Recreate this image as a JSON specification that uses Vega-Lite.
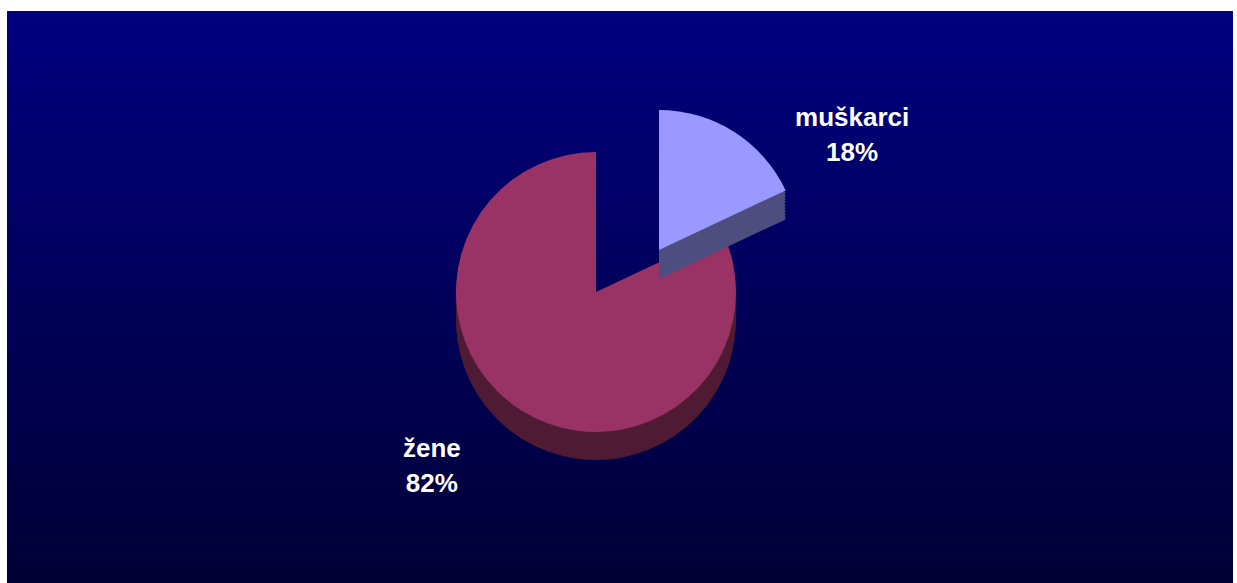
{
  "$schema": "https://vega.github.io/schema/vega-lite/v6.json",
  "autosize": {"type": "fit", "contains": "padding"},
  "width": 1237,
  "height": 583,
  "padding": {"left": 7, "top": 11, "right": 4, "bottom": 0},
  "background": "#ffffff",
  "config": {"view": {"stroke": null}},
  "data": {
    "values": [
      {"category": "muškarci", "value": 18, "label": "muškarci\n18%"},
      {"category": "žene", "value": 82, "label": "žene\n82%"}
    ]
  },
  "layer": [
    {
      "data": {"values": [{"bg": 1}]},
      "mark": {
        "type": "rect",
        "color": {
          "gradient": "linear",
          "x1": 0, "y1": 0, "x2": 0, "y2": 1,
          "stops": [
            {"offset": 0, "color": "#000080"},
            {"offset": 1, "color": "#000036"}
          ]
        }
      },
      "encoding": {}
    },
    {"mark": {"type": "arc", "outerRadius": 140, "xOffset": -24, "yOffset": -1}, "encoding": {"theta": {"field": "value", "type": "quantitative", "stack": true}, "order": {"field": "value", "type": "quantitative", "sort": "ascending"}, "fill": {"condition": {"test": "datum.category === 'žene'", "value": "#4f1a33"}, "value": "transparent"}}},
    {"mark": {"type": "arc", "outerRadius": 140, "xOffset": -24, "yOffset": 3}, "encoding": {"theta": {"field": "value", "type": "quantitative", "stack": true}, "order": {"field": "value", "type": "quantitative", "sort": "ascending"}, "fill": {"condition": {"test": "datum.category === 'žene'", "value": "#4f1a33"}, "value": "transparent"}}},
    {"mark": {"type": "arc", "outerRadius": 140, "xOffset": -24, "yOffset": 7}, "encoding": {"theta": {"field": "value", "type": "quantitative", "stack": true}, "order": {"field": "value", "type": "quantitative", "sort": "ascending"}, "fill": {"condition": {"test": "datum.category === 'žene'", "value": "#4f1a33"}, "value": "transparent"}}},
    {"mark": {"type": "arc", "outerRadius": 140, "xOffset": -24, "yOffset": 11}, "encoding": {"theta": {"field": "value", "type": "quantitative", "stack": true}, "order": {"field": "value", "type": "quantitative", "sort": "ascending"}, "fill": {"condition": {"test": "datum.category === 'žene'", "value": "#4f1a33"}, "value": "transparent"}}},
    {"mark": {"type": "arc", "outerRadius": 140, "xOffset": -24, "yOffset": 15}, "encoding": {"theta": {"field": "value", "type": "quantitative", "stack": true}, "order": {"field": "value", "type": "quantitative", "sort": "ascending"}, "fill": {"condition": {"test": "datum.category === 'žene'", "value": "#4f1a33"}, "value": "transparent"}}},
    {"mark": {"type": "arc", "outerRadius": 140, "xOffset": -24, "yOffset": 19}, "encoding": {"theta": {"field": "value", "type": "quantitative", "stack": true}, "order": {"field": "value", "type": "quantitative", "sort": "ascending"}, "fill": {"condition": {"test": "datum.category === 'žene'", "value": "#4f1a33"}, "value": "transparent"}}},
    {"mark": {"type": "arc", "outerRadius": 140, "xOffset": -24, "yOffset": 23}, "encoding": {"theta": {"field": "value", "type": "quantitative", "stack": true}, "order": {"field": "value", "type": "quantitative", "sort": "ascending"}, "fill": {"condition": {"test": "datum.category === 'žene'", "value": "#4f1a33"}, "value": "transparent"}}},
    {"mark": {"type": "arc", "outerRadius": 140, "xOffset": -24, "yOffset": -5}, "encoding": {"theta": {"field": "value", "type": "quantitative", "stack": true}, "order": {"field": "value", "type": "quantitative", "sort": "ascending"}, "fill": {"condition": {"test": "datum.category === 'žene'", "value": "#993366"}, "value": "transparent"}}},
    {"mark": {"type": "arc", "outerRadius": 140, "xOffset": 39, "yOffset": -44}, "encoding": {"theta": {"field": "value", "type": "quantitative", "stack": true}, "order": {"field": "value", "type": "quantitative", "sort": "ascending"}, "fill": {"condition": {"test": "datum.category === 'muškarci'", "value": "#4d4d80"}, "value": "transparent"}}},
    {"mark": {"type": "arc", "outerRadius": 140, "xOffset": 39, "yOffset": -41}, "encoding": {"theta": {"field": "value", "type": "quantitative", "stack": true}, "order": {"field": "value", "type": "quantitative", "sort": "ascending"}, "fill": {"condition": {"test": "datum.category === 'muškarci'", "value": "#4d4d80"}, "value": "transparent"}}},
    {"mark": {"type": "arc", "outerRadius": 140, "xOffset": 39, "yOffset": -38}, "encoding": {"theta": {"field": "value", "type": "quantitative", "stack": true}, "order": {"field": "value", "type": "quantitative", "sort": "ascending"}, "fill": {"condition": {"test": "datum.category === 'muškarci'", "value": "#4d4d80"}, "value": "transparent"}}},
    {"mark": {"type": "arc", "outerRadius": 140, "xOffset": 39, "yOffset": -35}, "encoding": {"theta": {"field": "value", "type": "quantitative", "stack": true}, "order": {"field": "value", "type": "quantitative", "sort": "ascending"}, "fill": {"condition": {"test": "datum.category === 'muškarci'", "value": "#4d4d80"}, "value": "transparent"}}},
    {"mark": {"type": "arc", "outerRadius": 140, "xOffset": 39, "yOffset": -32}, "encoding": {"theta": {"field": "value", "type": "quantitative", "stack": true}, "order": {"field": "value", "type": "quantitative", "sort": "ascending"}, "fill": {"condition": {"test": "datum.category === 'muškarci'", "value": "#4d4d80"}, "value": "transparent"}}},
    {"mark": {"type": "arc", "outerRadius": 140, "xOffset": 39, "yOffset": -29}, "encoding": {"theta": {"field": "value", "type": "quantitative", "stack": true}, "order": {"field": "value", "type": "quantitative", "sort": "ascending"}, "fill": {"condition": {"test": "datum.category === 'muškarci'", "value": "#4d4d80"}, "value": "transparent"}}},
    {"mark": {"type": "arc", "outerRadius": 140, "xOffset": 39, "yOffset": -26}, "encoding": {"theta": {"field": "value", "type": "quantitative", "stack": true}, "order": {"field": "value", "type": "quantitative", "sort": "ascending"}, "fill": {"condition": {"test": "datum.category === 'muškarci'", "value": "#4d4d80"}, "value": "transparent"}}},
    {"mark": {"type": "arc", "outerRadius": 140, "xOffset": 39, "yOffset": -23}, "encoding": {"theta": {"field": "value", "type": "quantitative", "stack": true}, "order": {"field": "value", "type": "quantitative", "sort": "ascending"}, "fill": {"condition": {"test": "datum.category === 'muškarci'", "value": "#4d4d80"}, "value": "transparent"}}},
    {"mark": {"type": "arc", "outerRadius": 140, "xOffset": 39, "yOffset": -20}, "encoding": {"theta": {"field": "value", "type": "quantitative", "stack": true}, "order": {"field": "value", "type": "quantitative", "sort": "ascending"}, "fill": {"condition": {"test": "datum.category === 'muškarci'", "value": "#4d4d80"}, "value": "transparent"}}},
    {"mark": {"type": "arc", "outerRadius": 140, "xOffset": 39, "yOffset": -18}, "encoding": {"theta": {"field": "value", "type": "quantitative", "stack": true}, "order": {"field": "value", "type": "quantitative", "sort": "ascending"}, "fill": {"condition": {"test": "datum.category === 'muškarci'", "value": "#4d4d80"}, "value": "transparent"}}},
    {"mark": {"type": "arc", "outerRadius": 140, "xOffset": 39, "yOffset": -47}, "encoding": {"theta": {"field": "value", "type": "quantitative", "stack": true}, "order": {"field": "value", "type": "quantitative", "sort": "ascending"}, "fill": {"condition": {"test": "datum.category === 'muškarci'", "value": "#9999ff"}, "value": "transparent"}}},
    {
      "mark": {"type": "text", "radius": 185, "xOffset": 133, "yOffset": -23, "lineBreak": "\n", "lineHeight": 35, "font": "Liberation Sans", "fontWeight": "bold", "fontSize": 26, "color": "#ffffff", "align": "center", "baseline": "middle"},
      "encoding": {
        "theta": {"field": "value", "type": "quantitative", "stack": true},
        "order": {"field": "value", "type": "quantitative", "sort": "ascending"},
        "text": {"field": "label", "type": "nominal"},
        "opacity": {"condition": {"test": "datum.category === 'muškarci'", "value": 1}, "value": 0}
      }
    },
    {
      "mark": {"type": "text", "radius": 200, "xOffset": -81, "yOffset": -17, "lineBreak": "\n", "lineHeight": 35, "font": "Liberation Sans", "fontWeight": "bold", "fontSize": 26, "color": "#ffffff", "align": "center", "baseline": "middle"},
      "encoding": {
        "theta": {"field": "value", "type": "quantitative", "stack": true},
        "order": {"field": "value", "type": "quantitative", "sort": "ascending"},
        "text": {"field": "label", "type": "nominal"},
        "opacity": {"condition": {"test": "datum.category === 'žene'", "value": 1}, "value": 0}
      }
    }
  ]
}
